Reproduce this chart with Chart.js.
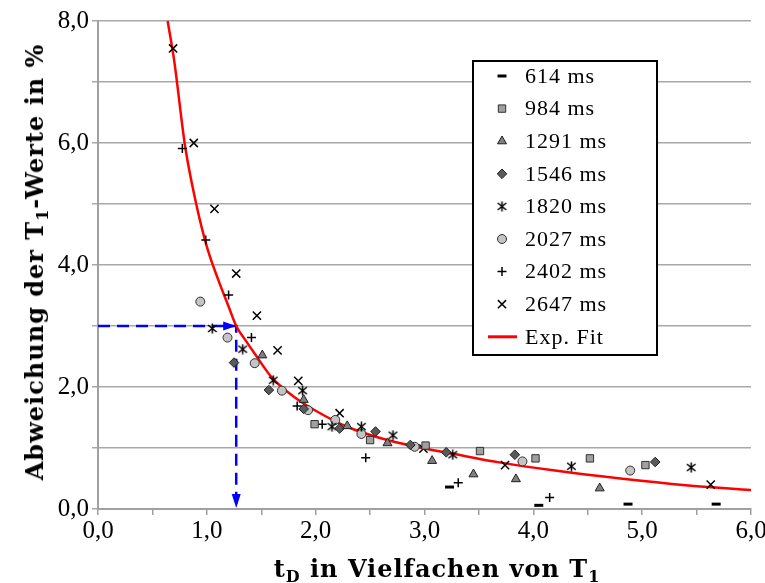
<!DOCTYPE html>
<html>
<head>
<meta charset="utf-8">
<script src="https://cdn.jsdelivr.net/npm/chart.js@4/dist/chart.umd.min.js"></script>
<style>
  body { margin: 0; background: #fff; }
  #wrap { position: relative; width: 765px; height: 583px; overflow: hidden; }
  .ttl { position: absolute; font-family: "DejaVu Serif", serif; font-weight: bold; font-size: 24px;
         line-height: 24px; letter-spacing: 1px; white-space: nowrap; color: #000; }
  .ttl sub { font-size: 16px; vertical-align: -5px; line-height: 0; }
  #xtitle { left: 437px; top: 557px; transform: translateX(-50%); }
  #ytitle { left: 35px; top: 262px; transform: translate(-50%, -50%) rotate(-90deg); }
  #probe { position: absolute; left: -9999px; font-family: "Liberation Serif"; }
</style>
</head>
<body>
<div id="wrap">
  <canvas id="chart" width="765" height="583"></canvas>
  <div class="ttl" id="ytitle">Abweichung der T<sub>1</sub>-Werte in %</div>
  <div class="ttl" id="xtitle">t<sub>D</sub> in Vielfachen von T<sub>1</sub></div>
</div>
<script>
// measured series, [t_D / T1, deviation %]
const s614  = [[3.23, 0.36], [4.05, 0.06], [4.87, 0.08], [5.68, 0.08]];
const s984  = [[1.99, 1.39], [2.50, 1.13], [3.01, 1.04], [3.51, 0.95], [4.02, 0.83], [4.52, 0.83], [5.03, 0.72]];
const s1291 = [[1.51, 2.52], [1.89, 1.79], [2.29, 1.36], [2.66, 1.08], [3.07, 0.79], [3.45, 0.57], [3.84, 0.49], [4.61, 0.34]];
const s1546 = [[1.25, 2.40], [1.57, 1.95], [1.89, 1.64], [2.22, 1.32], [2.55, 1.27], [2.87, 1.05], [3.20, 0.93], [3.83, 0.89], [5.12, 0.77]];
const s1820 = [[1.05, 2.96], [1.33, 2.62], [1.61, 2.11], [1.88, 1.94], [2.15, 1.35], [2.42, 1.35], [2.71, 1.21], [3.26, 0.89], [4.35, 0.70], [5.45, 0.68]];
const s2027 = [[0.94, 3.40], [1.19, 2.81], [1.44, 2.39], [1.69, 1.94], [1.93, 1.62], [2.18, 1.46], [2.42, 1.23], [2.91, 1.02], [3.90, 0.78], [4.89, 0.63]];
const s2402 = [[0.775, 5.91], [0.99, 4.41], [1.20, 3.51], [1.41, 2.81], [1.83, 1.69], [2.06, 1.39], [2.46, 0.84], [3.31, 0.43], [4.15, 0.19]];
const s2647 = [[0.69, 7.55], [0.88, 6.00], [1.07, 4.92], [1.27, 3.86], [1.46, 3.17], [1.65, 2.60], [1.84, 2.10], [2.22, 1.57], [2.99, 0.99], [3.74, 0.72], [5.63, 0.40]];

// exp. fit curve
const fitX = [0.64, 0.70, 0.80, 0.90, 1.00, 1.10, 1.20, 1.27, 1.35, 1.45, 1.60, 1.80, 2.00, 2.30, 2.60, 2.90, 3.25, 3.70, 4.20, 4.80, 5.40, 6.00];
const fitY = [8.00, 7.35, 5.95, 5.02, 4.30, 3.78, 3.32, 3.00, 2.78, 2.52, 2.15, 1.84, 1.61, 1.34, 1.16, 1.03, 0.91, 0.76, 0.63, 0.50, 0.39, 0.31];

// blue guide: 3 % deviation -> t_D
const guideX = [0, 1.27, 1.27];
const guideY = [3.0, 3.0, 0];

const labels = ['614 ms', '984 ms', '1291 ms', '1546 ms', '1820 ms', '2027 ms', '2402 ms', '2647 ms', 'Exp. Fit'];
const xTicks = [0, 1, 2, 3, 4, 5, 6];
const yTicks = [0, 2, 4, 6, 8];

const serif = '"Liberation Serif", "Times New Roman", Times, serif';

function asterisk() {
  const c = document.createElement('canvas');
  c.width = 11; c.height = 11;
  const g = c.getContext('2d');
  g.strokeStyle = '#000';
  g.lineWidth = 1.5;
  g.beginPath();
  g.moveTo(5.5, 0.5); g.lineTo(5.5, 10.5);
  g.moveTo(1.2, 2); g.lineTo(9.8, 9);
  g.moveTo(9.8, 2); g.lineTo(1.2, 9);
  g.stroke();
  return c;
}

const pts = a => a.map(p => ({ x: p[0], y: p[1] }));
const styles = [
  { pointStyle: 'line', radius: 4.5, bg: '#000', border: '#000', bw: 3 },
  { pointStyle: 'rect', radius: 5.2, bg: '#a0a0a0', border: '#303030', bw: 1 },
  { pointStyle: 'triangle', radius: 5.2, bg: '#7f7f7f', border: '#202020', bw: 1 },
  { pointStyle: 'rectRot', radius: 4.8, bg: '#5a5a5a', border: '#202020', bw: 1 },
  { pointStyle: asterisk(), radius: 5.5, bg: '#000', border: '#000', bw: 1 },
  { pointStyle: 'circle', radius: 4.5, bg: '#c4c4c4', border: '#303030', bw: 1 },
  { pointStyle: 'cross', radius: 4.5, bg: '#000', border: '#000', bw: 1.5 },
  { pointStyle: 'crossRot', radius: 5.8, bg: '#000', border: '#000', bw: 1.5 }
];
const series = [s614, s984, s1291, s1546, s1820, s2027, s2402, s2647];

const datasets = series.map((s, i) => ({
  type: 'scatter',
  label: labels[i],
  data: pts(s),
  pointStyle: styles[i].pointStyle,
  pointRadius: styles[i].radius,
  pointBackgroundColor: styles[i].bg,
  pointBorderColor: styles[i].border,
  pointBorderWidth: styles[i].bw,
  showLine: false
}));

datasets.push({
  type: 'line',
  label: labels[8],
  data: fitX.map((x, i) => ({ x: x, y: fitY[i] })),
  borderColor: '#ff0000',
  borderWidth: 2.5,
  pointRadius: 0,
  cubicInterpolationMode: 'monotone'
});
datasets.push({
  type: 'line',
  label: 'guide',
  data: guideX.map((x, i) => ({ x: x, y: guideY[i] })),
  borderColor: '#0000ff',
  borderWidth: 2.5,
  borderDash: [12, 7],
  pointRadius: 0,
  tension: 0
});

const fmt = v => v.toFixed(1).replace('.', ',');

// arrow heads on the guide + the boxed legend
const extras = {
  id: 'extras',
  afterDatasetsDraw(chart) {
    const ctx = chart.ctx, xs = chart.scales.x, ys = chart.scales.y;
    const cx = xs.getPixelForValue(guideX[1]), cy = ys.getPixelForValue(guideY[1]);
    const by = ys.getPixelForValue(guideY[2]);
    ctx.save();
    ctx.fillStyle = '#0000ff';
    ctx.beginPath();
    ctx.moveTo(cx, cy); ctx.lineTo(cx - 13, cy - 4.5); ctx.lineTo(cx - 13, cy + 4.5); ctx.closePath();
    ctx.fill();
    ctx.beginPath();
    ctx.moveTo(cx, by - 1); ctx.lineTo(cx - 4.5, by - 15); ctx.lineTo(cx + 4.5, by - 15); ctx.closePath();
    ctx.fill();
    ctx.restore();
  },
  afterDraw(chart) {
    const ctx = chart.ctx;
    const left = 473, top = 61, w = 184, h = 294;
    ctx.save();
    ctx.fillStyle = '#fff';
    ctx.fillRect(left, top, w, h);
    ctx.strokeStyle = '#000';
    ctx.lineWidth = 2;
    ctx.strokeRect(left, top, w, h);
    ctx.font = '22px ' + serif;
    ctx.letterSpacing = '1px';
    ctx.textBaseline = 'middle';
    labels.forEach((lab, i) => {
      const y = 76 + i * 32.6;
      if (i < 8) {
        const st = styles[i];
        ctx.fillStyle = st.bg;
        ctx.strokeStyle = st.border;
        ctx.lineWidth = st.bw;
        Chart.helpers.drawPoint(ctx, { pointStyle: st.pointStyle, radius: st.radius, rotation: 0, borderWidth: st.bw }, 502, y);
      } else {
        ctx.strokeStyle = '#ff0000';
        ctx.lineWidth = 3;
        ctx.beginPath(); ctx.moveTo(488, y); ctx.lineTo(517, y); ctx.stroke();
      }
      ctx.fillStyle = '#000';
      ctx.fillText(lab, 525, y + 1);
    });
    ctx.restore();
  }
};

new Chart(document.getElementById('chart'), {
  type: 'scatter',
  data: { datasets: datasets },
  plugins: [extras],
  options: {
    responsive: false,
    animation: false,
    devicePixelRatio: 1,
    layout: { padding: { left: 0, right: 14, top: 21, bottom: 0 } },
    plugins: { legend: { display: false }, tooltip: { enabled: false } },
    scales: {
      x: {
        type: 'linear', min: 0, max: 6,
        ticks: {
          stepSize: 0.5, autoSkip: false, maxRotation: 0, padding: 1, color: '#000',
          font: { family: serif, size: 25 },
          callback: v => xTicks.includes(v) ? fmt(v) : ''
        },
        grid: { drawOnChartArea: false, tickLength: 6, color: '#a0a0a0', lineWidth: 1.5 },
        border: { color: '#a0a0a0', width: 2 },
        afterFit: s => { s.height = 74; s.paddingLeft = 0; s.paddingRight = 0; }
      },
      y: {
        type: 'linear', min: 0, max: 8,
        ticks: {
          stepSize: 1, autoSkip: false, padding: 3, color: '#000',
          font: { family: serif, size: 25 },
          callback: v => yTicks.includes(v) ? fmt(v) : ''
        },
        grid: { color: '#a8a8a8', lineWidth: 1.5, tickLength: 6 },
        border: { color: '#a0a0a0', width: 2 },
        afterFit: s => { s.width = 98; s.paddingTop = 0; s.paddingBottom = 0; }
      }
    }
  }
});
</script>
</body>
</html>
